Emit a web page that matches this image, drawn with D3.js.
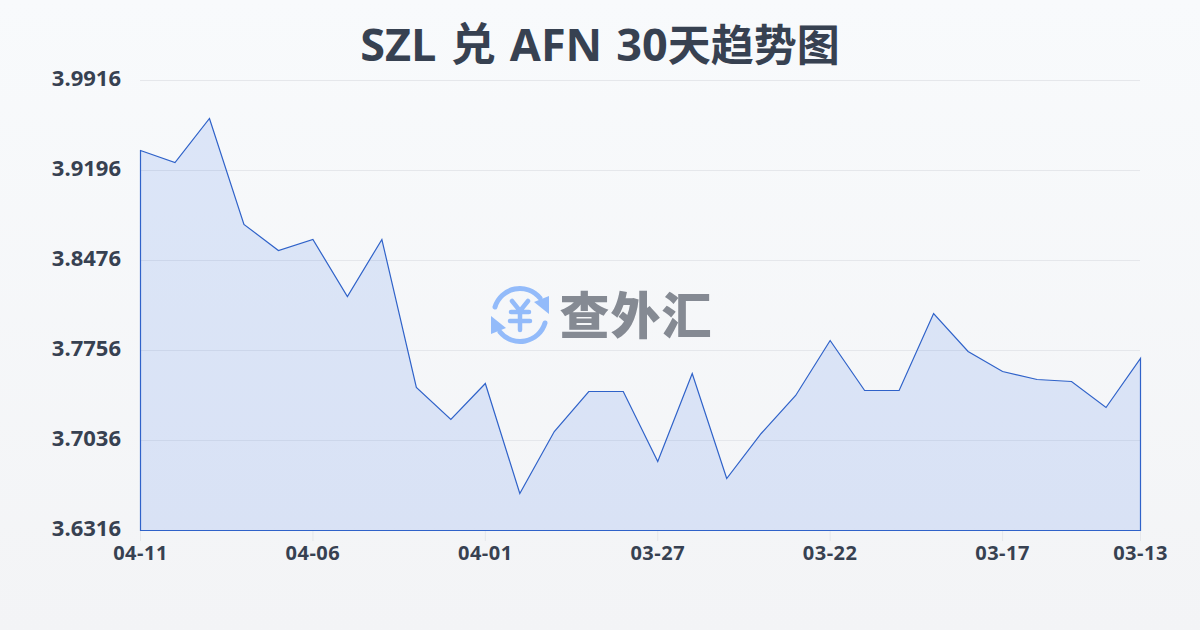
<!DOCTYPE html>
<html><head><meta charset="utf-8">
<script src="https://cdn.jsdelivr.net/npm/d3@7"></script>
<style>html,body{margin:0;padding:0;overflow:hidden}svg{display:block}text{font-family:"Open Sans","Noto Sans CJK SC",sans-serif}</style>
</head><body><svg id="c" width="1200" height="630"></svg>
<script>
const dates=["04-11","04-10","04-09","04-08","04-07","04-06","04-05","04-04","04-03","04-02","04-01","03-31","03-30","03-29","03-28","03-27","03-26","03-25","03-24","03-23","03-22","03-21","03-20","03-19","03-18","03-17","03-16","03-15","03-14","03-13"];
const rates=[3.9356,3.9260,3.9612,3.8764,3.8556,3.8644,3.8188,3.8644,3.7460,3.7204,3.7492,3.6612,3.7108,3.7428,3.7428,3.6868,3.7572,3.6732,3.7092,3.7396,3.7836,3.7436,3.7436,3.8052,3.7748,3.7588,3.7524,3.7508,3.7300,3.7692];
const yTicks=[3.6316,3.7036,3.7756,3.8476,3.9196,3.9916];
const xTicks=["04-11","04-06","04-01","03-27","03-22","03-17","03-13"];
const titleLatin=["SZL ","兑"," AFN 30"];
const titleCjk="天趋势图";
const brand="查外汇";

const svg=d3.select("#c");
const defs=svg.append("defs");
const bg=defs.append("linearGradient").attr("id","bg").attr("x1",0).attr("y1",0).attr("x2",0).attr("y2",1);
bg.append("stop").attr("offset",0).attr("stop-color","#f8fafc");
bg.append("stop").attr("offset",1).attr("stop-color","#f3f4f6");
svg.append("rect").attr("width",1200).attr("height",630).attr("fill","url(#bg)");

const x=d3.scalePoint().domain(dates).range([140.5,1140.5]);
const y=d3.scaleLinear().domain([3.6316,3.9916]).range([530.5,80.5]);

const title=svg.append("text").attr("x",600).attr("y",61).attr("text-anchor","middle")
  .attr("font-size",45).attr("font-weight",700).attr("fill","#374151").attr("word-spacing",2.5);
title.append("tspan").text(titleLatin.join(""));
title.append("tspan").attr("font-size",43).text(titleCjk);

svg.append("g").selectAll("line").data(yTicks.slice(1)).join("line")
  .attr("x1",140).attr("x2",1140).attr("y1",d=>y(d)).attr("y2",d=>y(d))
  .attr("stroke","#e5e7eb").attr("stroke-width",1);

// watermark
const wm=svg.append("g");
const ic=wm.append("g").attr("transform","translate(520,315)").attr("fill","none").attr("stroke","#93bbfa").attr("stroke-linecap","round");
ic.append("path").attr("stroke-width",5).attr("d","M-25,-8 A26,26 0 0 1 20,-17");
ic.append("path").attr("stroke-width",5).attr("d","M25,8 A26,26 0 0 1 -20,17");
ic.append("path").attr("fill","#93bbfa").attr("stroke","none").attr("d","M14,-13 L29,-19 L29,-1 Z");
ic.append("path").attr("fill","#93bbfa").attr("stroke","none").attr("d","M-14,13 L-29,19 L-29,1 Z");
ic.append("path").attr("stroke-width",4.5).attr("d","M-8,-14 L0,-4 L8,-14 M-9,-3 H9 M-10,6 H10 M0,-4 V15");
wm.append("text").attr("x",636).attr("y",334).attr("text-anchor","middle")
  .attr("font-size",50).attr("font-weight",900).attr("fill","#858a93").attr("letter-spacing",1)
  .style("font-family",'"Noto Sans CJK SC",sans-serif').text(brand);

const area=d3.area().x((d,i)=>x(dates[i])).y0(y(3.6316)).y1(d=>y(d));
svg.append("path").datum(rates).attr("d",area).attr("fill","#2563eb").attr("fill-opacity",0.13)
  .attr("stroke","#2f62c9").attr("stroke-width",1.2);

svg.append("g").selectAll("line").data(xTicks).join("line")
  .attr("x1",d=>x(d)).attr("x2",d=>x(d)).attr("y1",531).attr("y2",541)
  .attr("stroke","#e5e7eb");

svg.append("g").selectAll("text").data(yTicks).join("text")
  .attr("x",121).attr("y",d=>y(d)+5).attr("text-anchor","end")
  .attr("font-size",22).attr("font-weight",700).attr("fill","#374151").text(d=>d.toFixed(4));

svg.append("g").selectAll("text").data(xTicks).join("text")
  .attr("x",d=>x(d)).attr("y",560).attr("text-anchor","middle")
  .attr("font-size",20).attr("font-weight",700).attr("fill","#374151").attr("letter-spacing",0.5).text(d=>d);
</script></body></html>
